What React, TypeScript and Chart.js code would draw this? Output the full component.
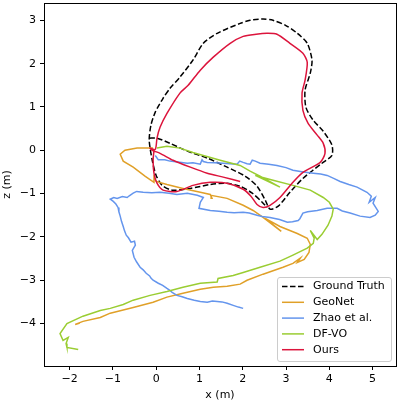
import React, { useEffect, useRef } from "react";
import { Chart, registerables } from "chart.js";
Chart.register(...registerables);

const seriesLabels = ["Ground Truth", "GeoNet", "Zhao et al.", "DF-VO", "Ours"];
const seriesColors = ["#000000", "#e0a028", "#6495ed", "#9acd32", "#dc143c"];
const xTicks = [-2, -1, 0, 1, 2, 3, 4, 5];
const zTicks = [-4, -3, -2, -1, 0, 1, 2, 3];

const gtX = [-0.16,0.02,0.32,0.72,1.18,1.64,2.06,2.33,2.52,2.63,2.82,3.09,3.39,3.83,4.06,4.06,3.86,3.63,3.46,3.44,3.56,3.60,3.49,3.26,2.98,2.70,2.47,2.17,1.94,1.41,1.09,0.85,0.55,0.32,0.16,-0.02,-0.12,-0.16,-0.09,0.00,0.14,0.37,0.79,1.25,1.59,1.94,2.22,2.45,2.56];
const gtZ = [0.28,0.28,0.16,-0.02,-0.18,-0.39,-0.60,-0.83,-1.15,-1.36,-1.29,-0.97,-0.65,-0.30,-0.12,0.12,0.44,0.69,0.99,1.39,1.78,2.08,2.47,2.70,2.89,3.00,3.03,3.00,2.93,2.70,2.47,2.08,1.69,1.43,1.20,0.88,0.58,0.23,-0.23,-0.58,-0.81,-0.92,-0.88,-0.79,-0.76,-0.83,-0.99,-1.20,-1.32];

const geoX = [-0.07,-0.44,-0.72,-0.83,-0.76,-0.53,-0.25,-0.05,-0.05,0.00,0.25,0.62,1.02,1.25,1.29,1.27,1.64,2.01,2.24,2.47,2.89,2.52,2.86,3.26,3.49,3.56,3.53,3.42,3.26,3.33,3.16,2.93,2.47,2.10,1.94,1.64,1.32,1.02,0.62,0.25,-0.07,-0.53,-1.06,-1.29,-1.69,-1.87,-1.76];
const geoZ = [0.05,0.05,0.00,-0.09,-0.25,-0.39,-0.60,-0.74,-0.62,-0.72,-0.79,-0.88,-0.97,-1.02,-1.11,-1.04,-1.11,-1.27,-1.39,-1.55,-1.87,-1.57,-1.76,-1.92,-2.03,-2.17,-2.36,-2.52,-2.59,-2.49,-2.61,-2.70,-2.86,-3.00,-3.09,-3.14,-3.16,-3.21,-3.30,-3.39,-3.51,-3.63,-3.76,-3.86,-3.95,-4.02,-3.99];

const zhaoX = [-0.02,0.05,0.20,0.32,0.50,0.72,0.85,1.02,1.06,1.09,1.18,1.35,1.55,1.70,1.87,1.93,2.01,2.10,2.17,2.22,2.29,2.40,2.60,2.79,3.00,3.16,3.40,3.63,3.80,3.95,4.10,4.25,4.45,4.64,4.87,4.97,4.92,5.06,5.01,5.13,5.06,4.94,4.71,4.48,4.30,4.18,3.95,3.72,3.50,3.39,3.32,3.28,3.15,3.03,2.85,2.63,2.45,2.33,2.15,2.01,1.80,1.64,1.45,1.25,0.99,1.02,1.09,0.95,0.72,0.48,0.30,0.09,-0.10,-0.30,-0.45,-0.53,-0.62,-0.67,-0.78,-0.90,-0.98,-1.06,-0.99,-0.93,-0.88,-0.86,-0.83,-0.80,-0.76,-0.73,-0.69,-0.64,-0.58,-0.50,-0.48,-0.55,-0.51,-0.45,-0.37,-0.30,-0.23,-0.15,-0.12,-0.07,0.05,0.15,0.25,0.30,0.37,0.48,0.60,0.72,0.88,1.02,1.18,1.30,1.41,1.52,1.64,1.78,1.90,2.01];
const zhaoZ = [-0.12,-0.22,-0.22,-0.25,-0.27,-0.30,-0.29,-0.32,-0.22,-0.26,-0.28,-0.29,-0.30,-0.31,-0.32,-0.25,-0.28,-0.31,-0.32,-0.23,-0.25,-0.30,-0.32,-0.35,-0.40,-0.46,-0.50,-0.53,-0.55,-0.58,-0.65,-0.72,-0.79,-0.85,-0.97,-1.06,-1.20,-1.09,-1.22,-1.41,-1.50,-1.55,-1.52,-1.45,-1.40,-1.34,-1.34,-1.39,-1.42,-1.45,-1.58,-1.62,-1.65,-1.66,-1.60,-1.55,-1.53,-1.50,-1.45,-1.43,-1.44,-1.43,-1.41,-1.39,-1.34,-1.20,-1.09,-1.04,-0.99,-1.02,-0.99,-0.97,-0.98,-0.97,-0.95,-0.99,-1.05,-1.09,-1.07,-1.11,-1.09,-1.13,-1.18,-1.24,-1.32,-1.42,-1.52,-1.64,-1.76,-1.86,-1.96,-2.02,-2.12,-2.10,-2.19,-2.31,-2.47,-2.58,-2.70,-2.76,-2.84,-2.90,-2.95,-3.00,-3.07,-3.12,-3.19,-3.22,-3.28,-3.35,-3.38,-3.42,-3.46,-3.49,-3.51,-3.48,-3.49,-3.50,-3.53,-3.58,-3.62,-3.65];

const dfX = [0.02,0.25,0.55,0.85,1.09,1.48,1.94,2.17,2.40,2.86,2.29,2.70,3.16,3.56,3.86,4.00,4.09,4.06,3.97,3.83,3.72,3.56,3.65,3.63,3.49,3.16,2.86,2.40,2.01,1.78,1.43,1.41,1.02,0.62,0.25,-0.14,-0.53,-0.76,-1.06,-1.29,-1.69,-2.06,-2.22,-2.15,-2.03,-2.08,-2.06,-1.80];
const dfZ = [0.05,0.09,0.05,-0.05,-0.12,-0.23,-0.35,-0.48,-0.60,-0.85,-0.58,-0.69,-0.81,-0.92,-1.09,-1.20,-1.36,-1.52,-1.73,-1.94,-2.06,-1.85,-2.03,-2.15,-2.26,-2.42,-2.56,-2.70,-2.82,-2.89,-2.96,-3.04,-3.07,-3.16,-3.26,-3.35,-3.46,-3.56,-3.65,-3.70,-3.83,-4.00,-4.23,-4.39,-4.32,-4.46,-4.55,-4.60];

const oursX = [1.94,1.55,1.18,0.79,0.39,0.09,-0.09,-0.14,-0.02,0.02,0.09,0.25,0.55,0.74,1.02,1.32,1.71,2.01,2.31,2.56,2.79,3.09,3.39,3.49,3.44,3.37,3.39,3.51,3.72,3.86,3.90,3.79,3.39,3.14,2.86,2.63,2.47,2.33,2.19,2.01,1.64,1.25,0.85,0.48,0.16,0.02,-0.05,-0.07,-0.05];
const oursZ = [-0.72,-0.62,-0.53,-0.39,-0.23,-0.07,0.00,0.05,0.02,0.28,0.53,0.85,1.32,1.50,1.85,2.15,2.47,2.63,2.68,2.70,2.68,2.47,2.24,2.03,1.62,1.32,0.92,0.62,0.35,0.16,-0.07,-0.28,-0.51,-0.76,-1.09,-1.27,-1.32,-1.25,-1.06,-0.90,-0.76,-0.74,-0.81,-0.95,-0.92,-0.76,-0.53,-0.23,0.00];

const xRange = [-2.59, 5.54];
const zRange = [-4.98, 3.40];

const FONT = "DejaVu Sans";

const pts = (xs: number[], zs: number[]) => xs.map((x, i) => ({ x, y: zs[i] }));
const fmt = (v: number) => (v < 0 ? "\u2212" + Math.abs(v) : String(v));

const framePlugin = {
  id: "frameAndLegend",
  afterDraw(chart: any) {
    const { ctx, chartArea: a } = chart;
    ctx.save();
    ctx.strokeStyle = "#000";
    ctx.lineWidth = 1;
    ctx.strokeRect(Math.floor(a.left) + 0.5, Math.floor(a.top) + 0.5, Math.round(a.right - a.left), Math.round(a.bottom - a.top));

    const w = 114, h = 84;
    const bx = a.right - 5 - w, by = a.bottom - 5 - h;
    ctx.fillStyle = "rgba(255,255,255,0.8)";
    ctx.strokeStyle = "#cccccc";
    ctx.beginPath();
    const r = 2.5;
    ctx.moveTo(bx + r, by + 0.5);
    ctx.arcTo(bx + w + 0.5, by + 0.5, bx + w + 0.5, by + h, r);
    ctx.arcTo(bx + w + 0.5, by + h + 0.5, bx, by + h + 0.5, r);
    ctx.arcTo(bx + 0.5, by + h + 0.5, bx + 0.5, by, r);
    ctx.arcTo(bx + 0.5, by + 0.5, bx + w, by + 0.5, r);
    ctx.closePath();
    ctx.fill();
    ctx.stroke();
    ctx.font = `11px "${FONT}"`;
    ctx.textBaseline = "middle";
    seriesLabels.forEach((lab, i) => {
      const y = by + 9.5 + i * 15.8;
      ctx.strokeStyle = seriesColors[i];
      ctx.lineWidth = 1.5;
      ctx.setLineDash(i === 0 ? [5.5, 2.5] : []);
      ctx.beginPath();
      ctx.moveTo(bx + 5, y);
      ctx.lineTo(bx + 27, y);
      ctx.stroke();
      ctx.setLineDash([]);
      ctx.fillStyle = "#000";
      ctx.fillText(lab, bx + 36, y);
    });
    ctx.restore();
  },
};

export default function App() {
  const ref = useRef<HTMLCanvasElement>(null);
  useEffect(() => {
    if (!ref.current) return;
    const series = [
      pts(gtX, gtZ),
      pts(geoX, geoZ),
      pts(zhaoX, zhaoZ),
      pts(dfX, dfZ),
      pts(oursX, oursZ),
    ];
    const tensions = [0.25, 0, 0, 0, 0.25];
    const chart = new Chart(ref.current, {
      type: "scatter",
      data: {
        datasets: series.map((d, i) => ({
          label: seriesLabels[i],
          data: d,
          showLine: true,
          borderColor: seriesColors[i],
          backgroundColor: seriesColors[i],
          borderWidth: 1.5,
          borderDash: i === 0 ? [5.5, 2.5] : [],
          pointRadius: 0,
          tension: tensions[i],
          order: 5 - i,
        })),
      },
      options: {
        responsive: false,
        animation: false,
        devicePixelRatio: 1,
        layout: { padding: { top: 3, right: 3, left: 0, bottom: 0 } },
        plugins: { legend: { display: false }, tooltip: { enabled: false } },
        scales: {
          x: {
            type: "linear",
            min: xRange[0],
            max: xRange[1],
            afterBuildTicks: (s: any) => { s.ticks = xTicks.map((v) => ({ value: v })); },
            afterFit: (s: any) => { s.height = 37; s.paddingLeft = 0; s.paddingRight = 0; },
            grid: { drawOnChartArea: false, drawTicks: true, tickLength: 4, color: "#000" },
            border: { display: false },
            ticks: { color: "#000", font: { family: FONT, size: 11 }, padding: 3, maxRotation: 0, callback: (v: any) => fmt(Number(v)) },
            title: { display: true, text: "x (m)", color: "#000", font: { family: FONT, size: 11 }, padding: { top: 0, bottom: 1 } },
          },
          y: {
            type: "linear",
            min: zRange[0],
            max: zRange[1],
            afterBuildTicks: (s: any) => { s.ticks = zTicks.map((v) => ({ value: v })); },
            afterFit: (s: any) => { s.width = 44; s.paddingTop = 0; s.paddingBottom = 0; },
            grid: { drawOnChartArea: false, drawTicks: true, tickLength: 4, color: "#000" },
            border: { display: false },
            ticks: { color: "#000", font: { family: FONT, size: 11 }, padding: 4, callback: (v: any) => fmt(Number(v)) },
            title: { display: true, text: "z (m)", color: "#000", font: { family: FONT, size: 11 }, padding: { top: 1, bottom: 0 } },
          },
        },
      },
      plugins: [framePlugin],
    } as any);
    return () => chart.destroy();
  }, []);
  return (
    <div style={{ position: "fixed", left: 0, top: 0, width: 399, height: 403, background: "#fff" }}>
      <canvas ref={ref} width={399} height={403} style={{ display: "block" }} />
    </div>
  );
}
